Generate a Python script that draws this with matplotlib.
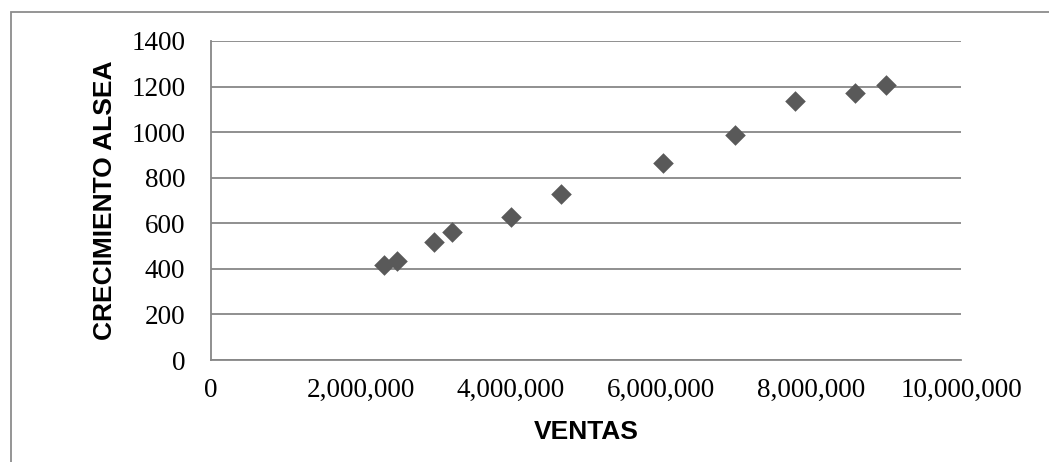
import matplotlib
matplotlib.use("Agg")
import matplotlib.pyplot as plt
from matplotlib.ticker import FuncFormatter, MultipleLocator
from matplotlib.patches import Rectangle

# Data
ventas = [2307000, 2476000, 2977000, 3209000, 4004000, 4667000,
          6027000, 6987000, 7791000, 8591000, 9000000]
crecimiento = [417, 436, 517, 560, 626, 729, 865, 989, 1137, 1172, 1207]

x_label = "VENTAS"
y_label = "CRECIMIENTO ALSEA"

W, H = 1049, 462
fig = plt.figure(figsize=(W / 100, H / 100), dpi=100)
ax = fig.add_axes([211 / W, 1 - 360 / H, 750 / W, 319 / H])

grid_color = "#878787"
ax.scatter(ventas, crecimiento, marker="D", s=110, color="#595959",
           linewidths=0, zorder=3)

ax.set_xlim(0, 10_000_000)
ax.set_ylim(0, 1400)
ax.xaxis.set_major_locator(MultipleLocator(2_000_000))
ax.yaxis.set_major_locator(MultipleLocator(200))
ax.xaxis.set_major_formatter(FuncFormatter(lambda v, p: f"{v:,.0f}"))
ax.yaxis.set_major_formatter(FuncFormatter(lambda v, p: f"{v:.0f}"))

ax.grid(axis="y", color=grid_color, linewidth=1.3)
ax.set_axisbelow(True)
for s in ["top", "right"]:
    ax.spines[s].set_visible(False)
for s in ["left", "bottom"]:
    ax.spines[s].set_color(grid_color)
    ax.spines[s].set_linewidth(1.3)

tick_font = dict(family=["Liberation Serif", "DejaVu Serif"], size=19.5)
ax.tick_params(axis="both", length=0)
ax.tick_params(axis="y", pad=18.5)
ax.tick_params(axis="x", pad=13)
for lab in ax.get_xticklabels() + ax.get_yticklabels():
    lab.set_fontfamily(tick_font["family"])
    lab.set_fontsize(tick_font["size"])
    lab.set_color("#000000")

label_font = dict(family=["Liberation Sans", "DejaVu Sans"], size=19,
                  weight="bold")
ax.set_xlabel(x_label, **label_font, va="center")
ax.xaxis.set_label_coords(0.5, (360 - 432) / 319)
ax.set_ylabel(y_label, **label_font, va="center")
ax.yaxis.set_label_coords((105 - 211) / 750, 0.5)

# outer chart frame (left and top edges visible)
frame = Rectangle((10.5 / W, -0.1), 1.2, 1.1 - 12.5 / H,
                  transform=fig.transFigure, fill=False,
                  edgecolor="#8c8c8c", linewidth=1.3, clip_on=False)
fig.add_artist(frame)

fig.savefig("out.png", dpi=100)
